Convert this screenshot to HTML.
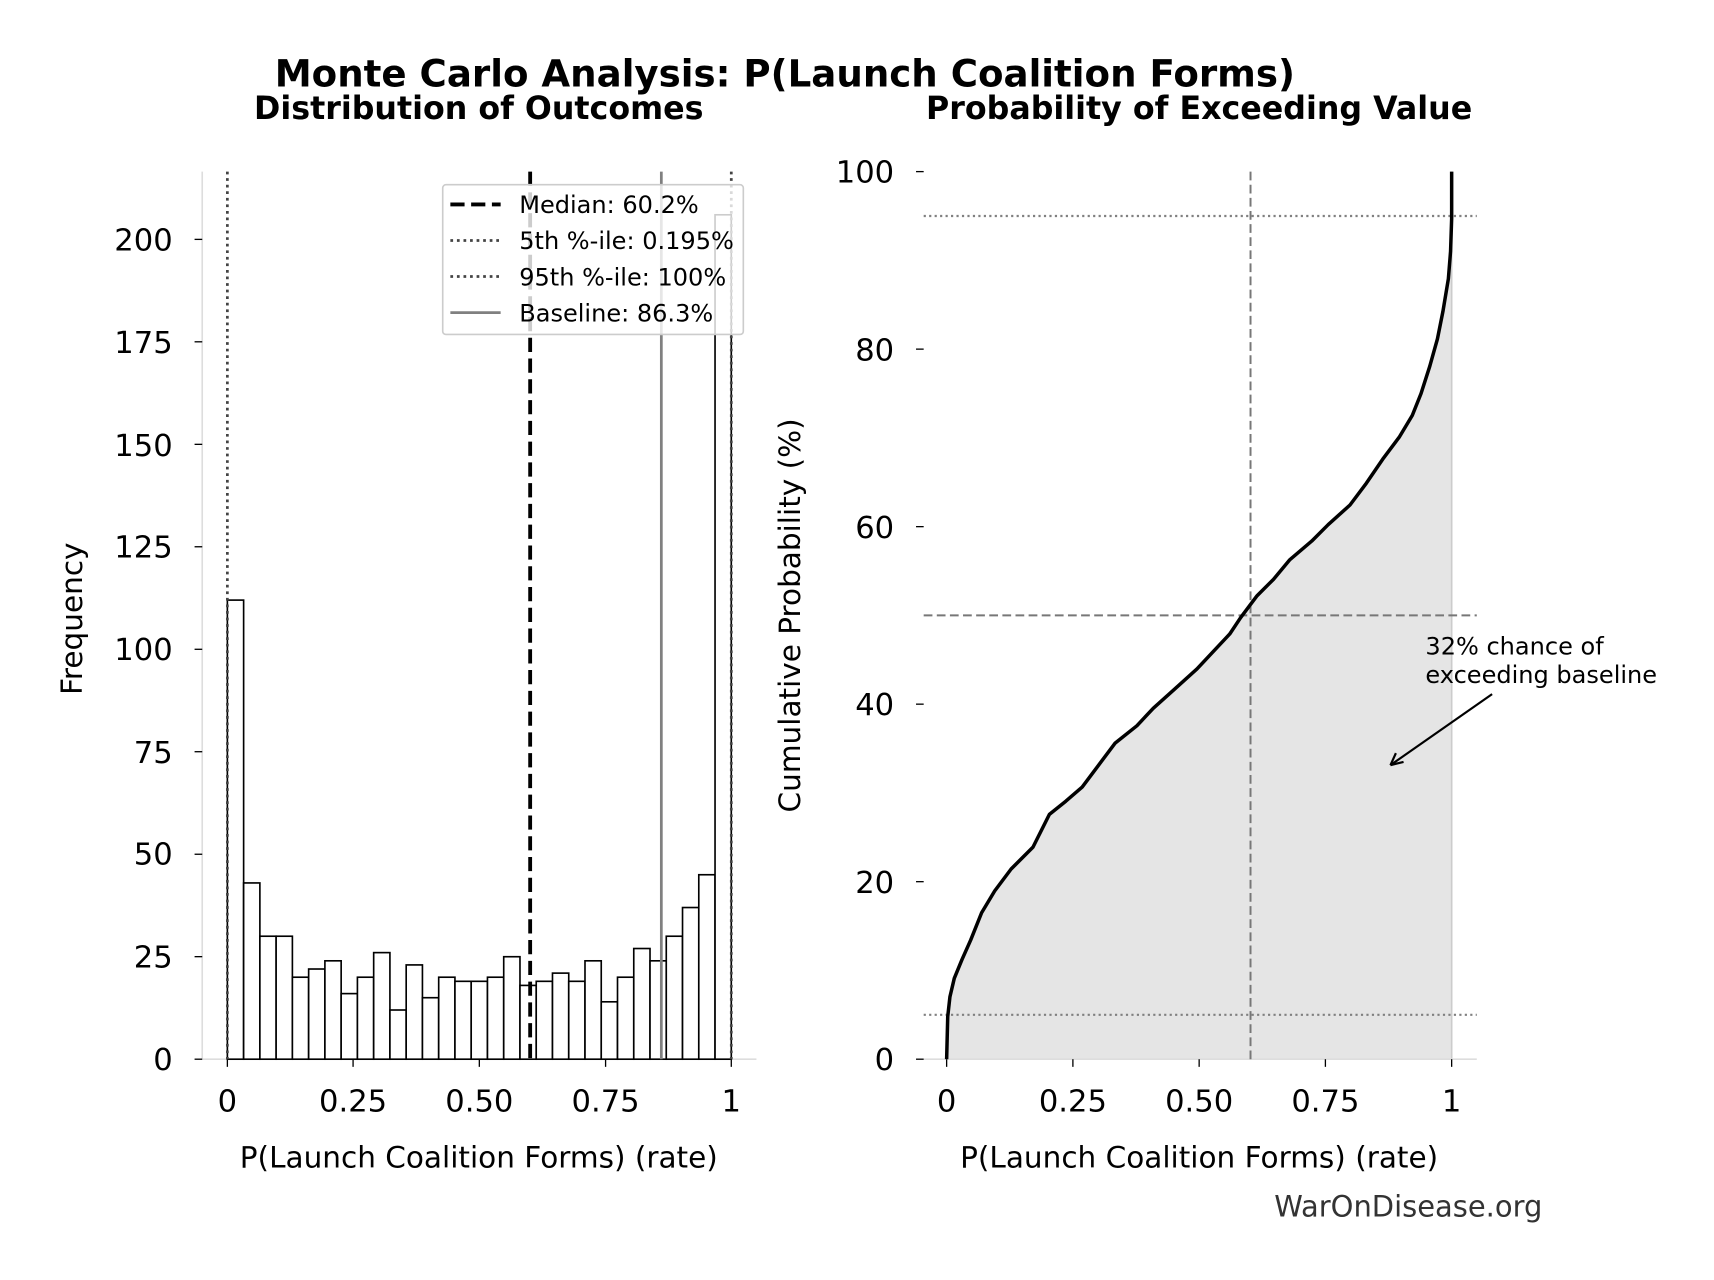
<!DOCTYPE html>
<html><head><meta charset="utf-8"><style>
html,body{margin:0;padding:0;background:#fff}
svg{display:block}
text{font-family:"DejaVu Sans","Liberation Sans",sans-serif}
</style></head><body>
<svg width="1714" height="1280" viewBox="0 0 1568 1171" preserveAspectRatio="none" xmlns="http://www.w3.org/2000/svg">
<rect width="1568" height="1171" fill="#fff"/>
<text x="718" y="79" font-size="34" font-weight="bold" text-anchor="middle">Monte Carlo Analysis: P(Launch Coalition Forms)</text>
<text x="438" y="109" font-size="29" font-weight="bold" text-anchor="middle">Distribution of Outcomes</text>
<text x="1097" y="109" font-size="29" font-weight="bold" text-anchor="middle">Probability of Exceeding Value</text>

<!-- LEFT AXES -->
<line x1="185" y1="157" x2="185" y2="969" stroke="#ddd" stroke-width="1.5"/>
<line x1="185" y1="969" x2="692" y2="969" stroke="#ddd" stroke-width="1.5"/>
<g stroke="#000" stroke-width="1.5" fill="#fff" id="bars"></g>
<g stroke="#000" stroke-width="1.2">
<line x1="178" y1="969" x2="185" y2="969"/><line x1="178" y1="875.2" x2="185" y2="875.2"/><line x1="178" y1="781.5" x2="185" y2="781.5"/><line x1="178" y1="687.7" x2="185" y2="687.7"/><line x1="178" y1="594" x2="185" y2="594"/><line x1="178" y1="500.2" x2="185" y2="500.2"/><line x1="178" y1="406.5" x2="185" y2="406.5"/><line x1="178" y1="312.7" x2="185" y2="312.7"/><line x1="178" y1="219" x2="185" y2="219"/>
<line x1="208" y1="969" x2="208" y2="976"/><line x1="323" y1="969" x2="323" y2="976"/><line x1="438.5" y1="969" x2="438.5" y2="976"/><line x1="554" y1="969" x2="554" y2="976"/><line x1="669" y1="969" x2="669" y2="976"/>
</g>
<g font-size="28" text-anchor="end">
<text x="158" y="979">0</text><text x="158" y="885">25</text><text x="158" y="791">50</text><text x="158" y="698">75</text><text x="158" y="604">100</text><text x="158" y="510">125</text><text x="158" y="417">150</text><text x="158" y="323">175</text><text x="158" y="229">200</text>
</g>
<g font-size="28" text-anchor="middle">
<text x="208" y="1017">0</text><text x="323" y="1017">0.25</text><text x="438.5" y="1017">0.50</text><text x="554" y="1017">0.75</text><text x="669" y="1017">1</text>
</g>
<text x="438" y="1068" font-size="27" text-anchor="middle">P(Launch Coalition Forms) (rate)</text>
<text x="75" y="566" font-size="27" text-anchor="middle" transform="rotate(-90 75 566)">Frequency</text>

<line x1="208" y1="157" x2="208" y2="969" stroke="#444" stroke-width="2.5" stroke-dasharray="2.5,3.5"/>
<line x1="669" y1="157" x2="669" y2="969" stroke="#444" stroke-width="2.5" stroke-dasharray="2.5,3.5"/>
<line x1="485" y1="157" x2="485" y2="969" stroke="#000" stroke-width="3.5" stroke-dasharray="13,6"/>
<line x1="605" y1="157" x2="605" y2="969" stroke="#808080" stroke-width="2.5"/>

<rect x="405" y="169" width="275" height="137" rx="3" fill="#fff" fill-opacity="0.8" stroke="#ccc" stroke-width="1.5"/>
<g font-size="22">
<line x1="412" y1="187" x2="458" y2="187" stroke="#000" stroke-width="3.5" stroke-dasharray="13,6"/><text x="475" y="195">Median: 60.2%</text>
<line x1="412" y1="220" x2="458" y2="220" stroke="#444" stroke-width="2.5" stroke-dasharray="2.5,3.5"/><text x="475" y="228">5th %-ile: 0.195%</text>
<line x1="412" y1="253" x2="458" y2="253" stroke="#444" stroke-width="2.5" stroke-dasharray="2.5,3.5"/><text x="475" y="261">95th %-ile: 100%</text>
<line x1="412" y1="286" x2="458" y2="286" stroke="#808080" stroke-width="2.5"/><text x="475" y="294">Baseline: 86.3%</text>
</g>

<!-- RIGHT AXES -->
<path id="fillp" fill="#e5e5e5" stroke="none" d=""/>
<line x1="1328" y1="157" x2="1328" y2="969" stroke="#ccc" stroke-width="1.5"/>
<line x1="845" y1="969" x2="1351" y2="969" stroke="#ddd" stroke-width="1.5"/>
<line x1="845" y1="197.6" x2="1351" y2="197.6" stroke="#808080" stroke-width="2" stroke-dasharray="2,3"/>
<line x1="845" y1="928.4" x2="1351" y2="928.4" stroke="#808080" stroke-width="2" stroke-dasharray="2,3"/>
<line x1="845" y1="563" x2="1351" y2="563" stroke="#777" stroke-width="1.8" stroke-dasharray="8,4"/>
<line x1="1144" y1="157" x2="1144" y2="969" stroke="#777" stroke-width="1.8" stroke-dasharray="8,4"/>
<path id="curve" fill="none" stroke="#000" stroke-width="3.2" stroke-linejoin="round" d=""/>
<g stroke="#000" stroke-width="1.2">
<line x1="838" y1="969" x2="845" y2="969"/><line x1="838" y1="806.6" x2="845" y2="806.6"/><line x1="838" y1="644.2" x2="845" y2="644.2"/><line x1="838" y1="481.8" x2="845" y2="481.8"/><line x1="838" y1="319.4" x2="845" y2="319.4"/><line x1="838" y1="157" x2="845" y2="157"/>
<line x1="866" y1="969" x2="866" y2="976"/><line x1="981.5" y1="969" x2="981.5" y2="976"/><line x1="1097" y1="969" x2="1097" y2="976"/><line x1="1212.5" y1="969" x2="1212.5" y2="976"/><line x1="1328" y1="969" x2="1328" y2="976"/>
</g>
<g font-size="28" text-anchor="end">
<text x="818" y="979">0</text><text x="818" y="817">20</text><text x="818" y="654">40</text><text x="818" y="492">60</text><text x="818" y="330">80</text><text x="818" y="167">100</text>
</g>
<g font-size="28" text-anchor="middle">
<text x="866" y="1017">0</text><text x="981.5" y="1017">0.25</text><text x="1097" y="1017">0.50</text><text x="1212.5" y="1017">0.75</text><text x="1328" y="1017">1</text>
</g>
<text x="1097" y="1068" font-size="27" text-anchor="middle">P(Launch Coalition Forms) (rate)</text>
<text x="732" y="563" font-size="27" text-anchor="middle" transform="rotate(-90 732 563)">Cumulative Probability (%)</text>
<text x="1304" y="599" font-size="22">32% chance of</text>
<text x="1304" y="625" font-size="22">exceeding baseline</text>
<line x1="1365" y1="635" x2="1272" y2="700" stroke="#000" stroke-width="2"/>
<path d="M1272,700 l12,-3 M1272,700 l5,-11" stroke="#000" stroke-width="2" fill="none"/>
<text x="1411" y="1113" font-size="26.5" fill="#333" text-anchor="end">WarOnDisease.org</text>
</svg>
<script>
var c=[112,43,30,30,20,22,24,16,20,26,12,23,15,20,19,19,20,25,18,19,21,19,24,14,20,27,24,30,37,45,206];
var g=document.getElementById('bars'),w=461/31,s='';
for(var i=0;i<31;i++){var h=c[i]*3.75;s+='<rect x="'+(208+i*w)+'" y="'+(969-h)+'" width="'+w+'" height="'+h+'"/>';}
g.innerHTML=s;
var p=[[866,969],[867,930],[869,912],[873,895],[880,878],[888,860],[898,835],[910,815],[925,795],[945,775],[960,745],[975,733],[990,720],[1005,700],[1020,680],[1040,664],[1055,648],[1075,630],[1095,612],[1110,596],[1125,580],[1135,565],[1150,545],[1165,530],[1180,512],[1200,495],[1215,480],[1235,462],[1250,442],[1265,420],[1280,400],[1292,380],[1300,360],[1308,335],[1315,310],[1320,285],[1325,255],[1327,230],[1328,200],[1328,157]];
var d='M'+p.map(function(a){return a[0]+','+a[1]}).join(' L');
document.getElementById('curve').setAttribute('d',d);
document.getElementById('fillp').setAttribute('d',d+' L1328,969 Z');
</script>
</body></html>
